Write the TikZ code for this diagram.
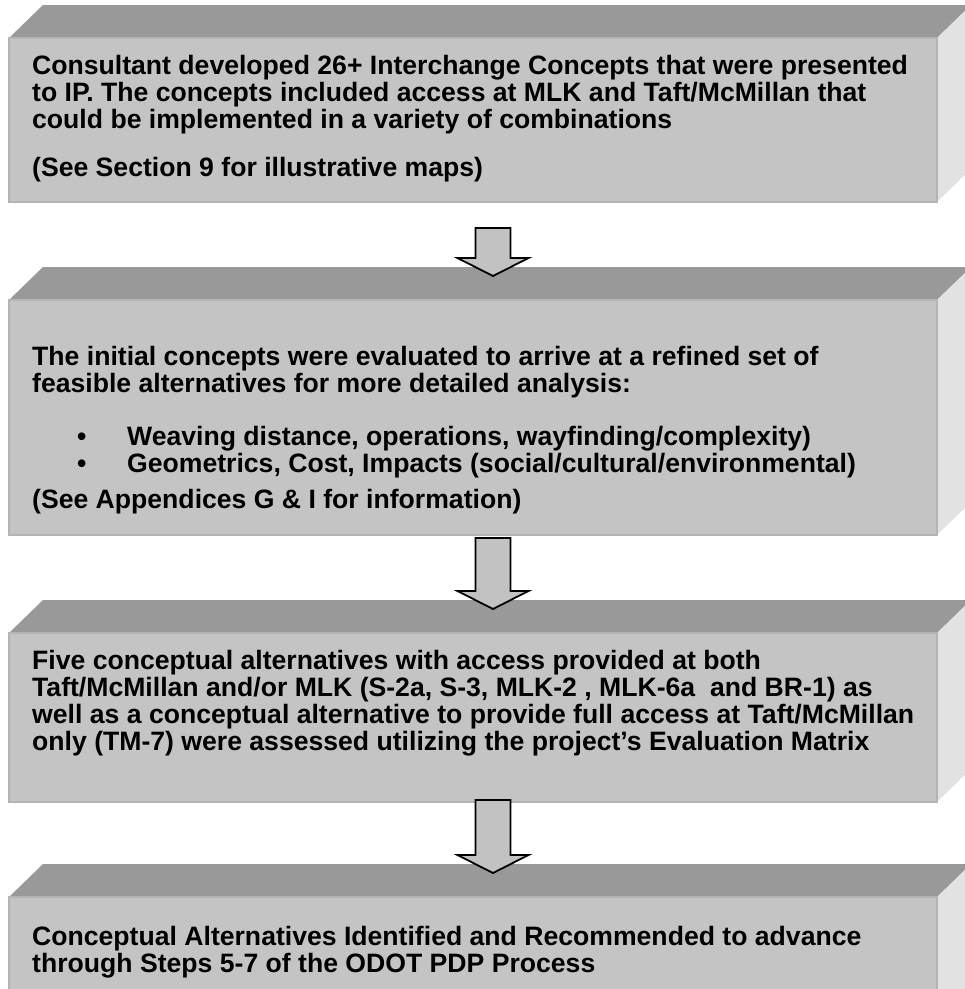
\documentclass[tikz,border=0pt]{standalone}
\usepackage{fontspec}
\setmainfont{Liberation Sans}
\usetikzlibrary{positioning,calc}

\definecolor{facegray}{HTML}{C4C4C4}
\definecolor{topgray}{HTML}{999999}
\definecolor{sidegray}{HTML}{E2E2E2}
\definecolor{edgegray}{HTML}{B4B4B4}
\definecolor{arrowgray}{HTML}{C2C2C2}

\tikzset{
  front/.style={fill=facegray, draw=edgegray, line width=1.2pt, anchor=north west,
    minimum width=928pt, inner sep=0pt, outer sep=0pt},
  topface/.style={fill=topgray},
  sideface/.style={fill=sidegray},
  boxtext/.style={anchor=north west, inner sep=0pt, align=left,
    font=\bfseries\fontsize{26.6}{27.1}\selectfont},
  downarrow/.style={fill=arrowgray, draw=black, line width=1.8pt, line join=miter}
}

\begin{document}
\begin{tikzpicture}[x=1pt, y=-1pt]
\useasboundingbox (0,0) rectangle (965,989);
\clip (0,0) rectangle (965,989);

% bevelled boxes
\foreach \n/\t/\b in {1/38/202, 2/300/535, 3/633/802, 4/897/1040}{
  \fill[topface] (9,\t) -- (43,\t-33) -- (971,\t-33) -- (937,\t) -- cycle;
  \fill[sideface] (937,\t) -- (971,\t-33) -- (971,\b-33) -- (937,\b) -- cycle;
  \node[front, minimum height={(\b-\t)*1pt}] (box\n) at (9,\t) {};
}

% texts
\node[boxtext, below right=17pt and 23pt of box1.north west] (txt1)
  {Consultant developed 26+ Interchange Concepts that were presented\\
   to IP. The concepts included access at MLK and Taft/McMillan that\\
   could be implemented in a variety of combinations\\[21pt]
   (See Section 9 for illustrative maps)};
\node[boxtext, below right=46pt and 23pt of box2.north west] (txt2)
  {The initial concepts were evaluated to arrive at a refined set of\\
   feasible alternatives for more detailed analysis:\\[26pt]
   \hspace*{45pt}\makebox[50pt][l]{\textbullet}Weaving distance, operations, wayfinding/complexity)\\
   \hspace*{45pt}\makebox[50pt][l]{\textbullet}Geometrics, Cost, Impacts (social/cultural/environmental)\\[9pt]
   (See Appendices G \& I for information)};
\node[boxtext, below right=17pt and 23pt of box3.north west] (txt3)
  {Five conceptual alternatives with access provided at both\\
   Taft/McMillan and/or MLK (S-2a, S-3, MLK-2 , MLK-6a~ and BR-1) as\\
   well as a conceptual alternative to provide full access at Taft/McMillan\\
   only (TM-7) were assessed utilizing the project’s Evaluation Matrix};
\node[boxtext, below right=29pt and 23pt of box4.north west] (txt4)
  {Conceptual Alternatives Identified and Recommended to advance\\
   through Steps 5-7 of the ODOT PDP Process};

% block arrows between the boxes
\foreach \a/\c/\g in {1/2/26, 2/3/3, 3/4/-2}{
  \path ($(box\a.south)+(20,\g)$) coordinate (top\a)
        ($(box\c.north)+(20,-24)$) coordinate (tip\a);
  \draw[downarrow] ($(top\a)+(-17.5,0)$) -- ($(top\a)+(17.5,0)$)
    -- ($(tip\a)+(17.5,-18)$) -- ($(tip\a)+(35.5,-18)$) -- (tip\a)
    -- ($(tip\a)+(-35.5,-18)$) -- ($(tip\a)+(-17.5,-18)$) -- cycle;
}
\end{tikzpicture}
\end{document}
